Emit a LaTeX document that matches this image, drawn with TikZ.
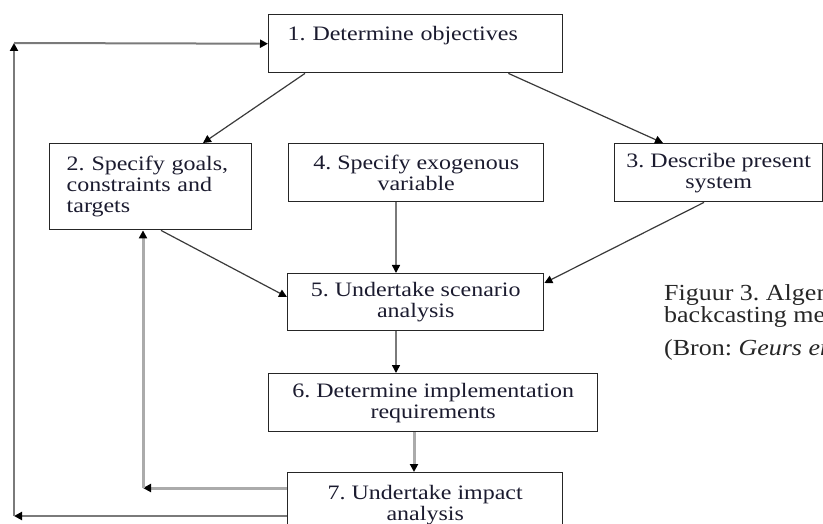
\documentclass[tikz,border=0pt]{standalone}
\usepackage{fontspec}
\setmainfont{Liberation Serif}
\newfontfamily\boxfont[FakeStretch=1.17]{Liberation Serif}
\newfontfamily\capfont[FakeStretch=1.13]{Liberation Serif}
\usetikzlibrary{arrows.meta, calc}
\definecolor{boxline}{HTML}{262626}
\definecolor{arrgray}{HTML}{3A3A3A}
\definecolor{midgray}{HTML}{7A7A7A}
\definecolor{ltgray}{HTML}{ABABAB}
\definecolor{inkblue}{HTML}{1B1B2F}
\frenchspacing

\begin{document}
\begin{tikzpicture}[
    x=1pt, y=-1pt,
    >={Triangle[length=8pt, width=8pt, color=black]},
    stepbox/.style={draw=boxline, line width=1.4pt, anchor=north west,
      inner sep=0pt, align=center, text=inkblue,
      font=\boxfont\fontsize{20.5}{21}\selectfont},
    diag/.style={->, draw=arrgray, line width=1.2pt},
    flow/.style={->, draw=midgray, line width=1.5pt},
    back/.style={->, draw=ltgray, line width=3pt},
    outer/.style={->, draw=midgray, line width=2pt},
    caption/.style={anchor=base west, inner sep=0pt, text=black!85,
      font=\capfont\fontsize{23}{23}\selectfont},
  ]

  % Page
  \useasboundingbox (0,0) rectangle (823,524);
  \clip (0,0) rectangle (823,524);

  %%% ============================================================ %%%
  %%% Steps                                                        %%%
  %%% ============================================================ %%%
  \node[stepbox, minimum width=294, minimum height=58, text width=256, align=left]
    (b1) at (268,14) {1. Determine objectives\\\mbox{}};
  \node[stepbox, minimum width=202, minimum height=86, text width=168, align=left]
    (b2) at (49,143) {2. Specify goals,\\constraints and\\targets};
  \node[stepbox, minimum width=255, minimum height=58]
    (b4) at (288,143) {4. Specify exogenous\\variable};
  \node[stepbox, minimum width=208, minimum height=58]
    (b3) at (614,143) {3. Describe present\\system};
  \node[stepbox, minimum width=256, minimum height=57]
    (b5) at (287,273) {5. Undertake scenario\\analysis};
  \node[stepbox, minimum width=329, minimum height=58]
    (b6) at (268,373) {6. Determine implementation\\requirements};
  \node[stepbox, minimum width=275, minimum height=65]
    (b7) at (287,472) {7. Undertake impact\\analysis};

  % Corners of the feedback loops
  \coordinate (c1) at (143,488);
  \coordinate (c2) at (14,516);
  \coordinate (c3) at (14,43);

  %%% ============================================================ %%%
  %%% Connectors                                                   %%%
  %%% ============================================================ %%%
  \draw[diag] ($(b1.south west)+(37,0)$) -- ($(b2.north west)+(154,0)$);
  \draw[diag] ($(b1.south east)+(-55,0)$) -- ($(b3.north west)+(49,0)$);
  \draw[diag] ($(b2.south west)+(112,0)$) -- ($(b5.north west)+(0,24)$);
  \draw[diag] ($(b3.south west)+(90,0)$) -- ($(b5.north east)+(0,10)$);
  \draw[flow] ($(b4.south west)+(108,0)$) -- ($(b5.north west)+(109,0)$);
  \draw[flow] ($(b5.south west)+(109,0)$) -- ($(b6.north west)+(128,0)$);
  \draw[back] ($(b6.south west)+(146,0)$) -- ($(b7.north west)+(127,0)$);

  % Feedback to step 2
  \draw[back] ($(b7.north west)+(0,16)$) -- (c1);
  \draw[back] (c1) -- (c1 |- b2.south);

  % Feedback to step 1
  \draw[outer] ($(b7.north west)+(0,44)$) -- (c2);
  \draw[outer] (c2) -- (c3);
  \draw[outer] (c3) -- (b1.west);

  %%% ============================================================ %%%
  %%% Caption                                                      %%%
  %%% ============================================================ %%%
  \node[caption] (cap1) at (664,301) {Figuur 3. Algem};
  \node[caption] (cap2) at (664,323) {backcasting me};
  \node[caption] (cap3) at (664,355) {(Bron: \textit{Geurs en}};

\end{tikzpicture}
\end{document}
